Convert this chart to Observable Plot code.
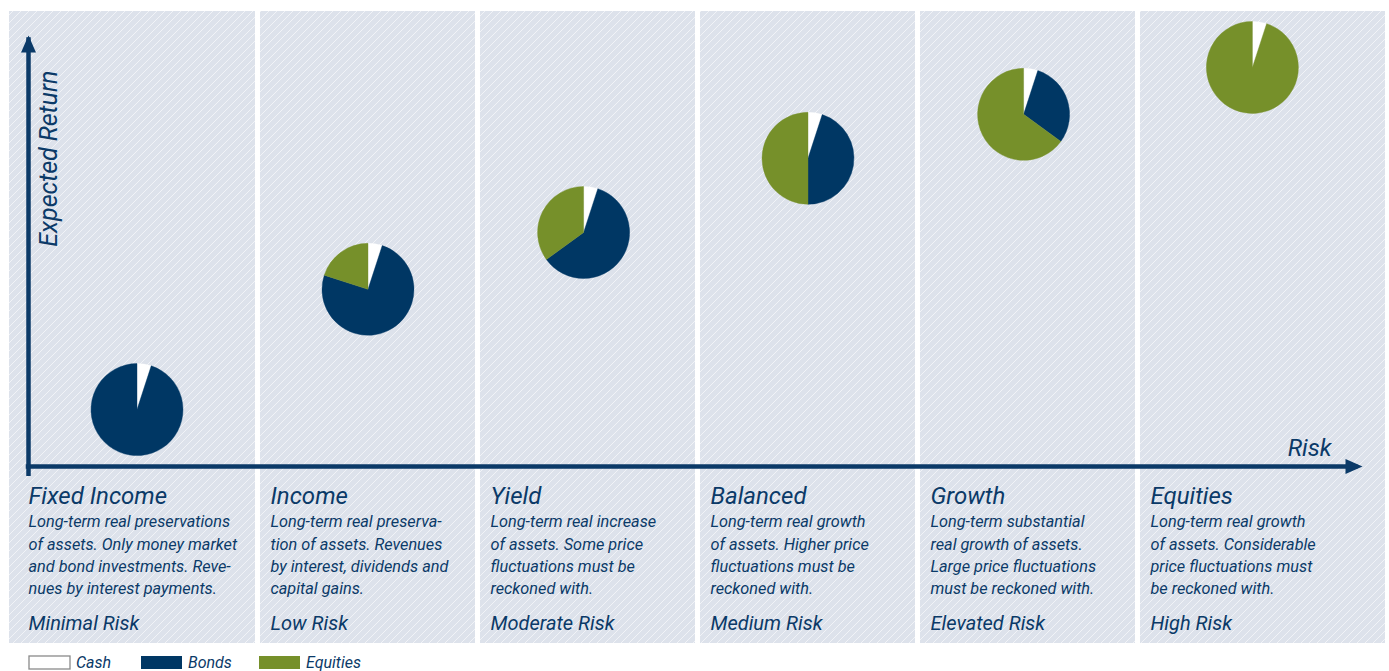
<!DOCTYPE html>
<html>
<head>
<meta charset="utf-8">
<script src="https://cdn.jsdelivr.net/npm/d3@7"></script>
<script src="https://cdn.jsdelivr.net/npm/@observablehq/plot@0.6"></script>
<style>
html, body { margin: 0; padding: 0; background: #fff; overflow: hidden; }
#chart svg { display: block; }
.lg-swatches { font-family: Roboto, sans-serif !important; font-size: 16px !important; font-style: italic; color: #0b3a68; margin: 0 !important; }
.lg-swatches-wrap { min-height: 0 !important; padding: 5px 0 0 29px; align-items: center !important; }
.lg-swatch { margin-right: 0 !important; }
.lg-swatch:nth-of-type(1) { width: 112px; }
.lg-swatch:nth-of-type(2) { width: 118px; }
.lg-swatch > svg { margin-right: 6px !important; }
.lg-swatch:nth-of-type(1) rect { stroke: #8a8a8a; stroke-width: 1.3px; }
</style>
</head>
<body>
<div id="chart"></div>
<script>
// ---------- data ----------
const categories = ["Fixed Income", "Income", "Yield", "Balanced", "Growth", "Equities"];
const riskLevels = ["Minimal Risk", "Low Risk", "Moderate Risk", "Medium Risk", "Elevated Risk", "High Risk"];
const descriptions = [
  "Long-term real preservations\nof assets. Only money market\nand bond investments. Reve-\nnues by interest payments.",
  "Long-term real preserva-\ntion of assets. Revenues\nby interest, dividends and\ncapital gains.",
  "Long-term real increase\nof assets. Some price\nfluctuations must be\nreckoned with.",
  "Long-term real growth\nof assets. Higher price\nfluctuations must be\nreckoned with.",
  "Long-term substantial\nreal growth of assets.\nLarge price fluctuations\nmust be reckoned with.",
  "Long-term real growth\nof assets. Considerable\nprice fluctuations must\nbe reckoned with."
];
// risk (x, 0–6 panel units) and expected return (y, 0–100) of each portfolio
const riskScore = [0.45, 1.5, 2.48, 3.5, 4.48, 5.52];
const expectedReturn = [13.2, 41.1, 54.3, 71.5, 81.7, 92.6];
// allocation (%)
const series = ["Cash", "Bonds", "Equities"];
const cash = [5, 5, 5, 5, 5, 5];
const bonds = [95, 75, 60, 45, 30, 0];
const equities = [0, 20, 35, 50, 65, 95];
const seriesColors = ["#ffffff", "#003764", "#76902a"];

// ---------- derived ----------
const navy = "#0b3a68";
const allocation = [cash, bonds, equities];
const pie = d3.pie().sort(null).value(d => d.value);
const wedges = categories.flatMap((c, i) =>
  pie(series.map((s, k) => ({portfolio: c, series: s, value: allocation[k][i], risk: riskScore[i], ret: expectedReturn[i]})))
    .filter(a => a.value > 0)
    .map(a => ({...a.data, a0: a.startAngle, a1: a.endAngle}))
);
const wedgeSymbol = (a0, a1) => ({
  draw(ctx, size) {
    const r = Math.sqrt(size / Math.PI);
    ctx.moveTo(0, 0);
    ctx.arc(0, 0, r, a0 - Math.PI / 2, a1 - Math.PI / 2);
    ctx.closePath();
  }
});
const arrowHead = {
  draw(ctx) { ctx.moveTo(0, 0); ctx.lineTo(7.5, 17); ctx.lineTo(-7.5, 17); ctx.closePath(); }
};
const idx = d3.range(categories.length);
const first = idx.filter(i => i === 0);
const rest = idx.filter(i => i > 0);
const middle = idx.filter(i => i > 0 && i < categories.length - 1);
const last = idx.filter(i => i === categories.length - 1);

const hatchDefs = () => {
  const g = d3.create("svg:g");
  const p = g.append("defs").append("pattern")
    .attr("id", "hatch").attr("patternUnits", "userSpaceOnUse")
    .attr("width", 8).attr("height", 8);
  p.append("rect").attr("width", 8).attr("height", 8).attr("fill", "#dde2eb");
  p.append("path").attr("d", "M-2,2 l4,-4 M0,8 l8,-8 M6,10 l4,-4")
    .attr("stroke", "#fff").attr("stroke-width", 0.8).attr("stroke-opacity", 0.75);
  return g.node();
};

const txt = {fill: navy, fontFamily: "Roboto", fontStyle: "italic", textAnchor: "start"};
function panelText(textFn, opts) {
  return [
    Plot.text(first, {x: d => d, y: 0, text: textFn, dx: -9.5, ...txt, ...opts}),
    Plot.text(rest, {x: d => d, y: 0, text: textFn, dx: 12.5, ...txt, ...opts})
  ];
}
const panelInsets = {insetTop: -24, insetBottom: -177};

const plot = Plot.plot({
  width: 1389,
  height: 648,
  marginLeft: 37.5,
  marginRight: 31.5,
  marginTop: 35,
  marginBottom: 182,
  x: {domain: [0, 6], axis: null},
  y: {domain: [0, 100], axis: null},
  color: {domain: series, range: seriesColors},
  style: {background: "transparent", fontFamily: "Roboto", overflow: "visible"},
  marks: [
    hatchDefs,
    // panels
    Plot.rect(first, {x1: d => d, x2: d => d + 1, fill: "url(#hatch)", insetLeft: -28.5, insetRight: 2.5, ...panelInsets}),
    Plot.rect(middle, {x1: d => d, x2: d => d + 1, fill: "url(#hatch)", insetLeft: 2.5, insetRight: 2.5, ...panelInsets}),
    Plot.rect(last, {x1: d => d, x2: d => d + 1, fill: "url(#hatch)", insetLeft: 2.5, insetRight: -27.5, ...panelInsets}),
    // axes
    Plot.ruleY([0], {x1: 0, x2: 6, stroke: navy, strokeWidth: 4.5, insetLeft: -11.75}),
    Plot.ruleX([0], {y1: 0, y2: 100, dx: -9.5, stroke: navy, strokeWidth: 4.5, insetTop: 10, insetBottom: -2.25}),
    Plot.dot([0], {x: 0, y: 100, dx: -9.5, symbol: arrowHead, fill: navy, stroke: "none"}),
    Plot.dot([0], {x: 6, y: 0, dx: 4.5, symbol: arrowHead, rotate: 90, fill: navy, stroke: "none"}),
    Plot.text(["Expected Return"], {frameAnchor: "top-left", text: d => d, rotate: -90, textAnchor: "end", lineAnchor: "bottom", dx: 19, dy: 35, fontSize: 25, fill: navy, fontFamily: "Roboto", fontStyle: "italic"}),
    Plot.text(["Risk"], {frameAnchor: "bottom-right", text: d => d, textAnchor: "end", lineAnchor: "bottom", dx: -26.5, dy: -11, fontSize: 24, fill: navy, fontFamily: "Roboto", fontStyle: "italic"}),
    // pies
    ...wedges.map(w => Plot.dot([w], {x: "risk", y: "ret", r: 46, fill: "series", stroke: "series", strokeWidth: 0.4, symbol: wedgeSymbol(w.a0, w.a1)})),
    // panel texts
    ...panelText(i => categories[i], {fontSize: 24, lineAnchor: "bottom", dy: 37}),
    ...panelText(i => descriptions[i], {fontSize: 16.3, lineAnchor: "top", lineHeight: 1.362, dy: 45.2}),
    ...panelText(i => riskLevels[i], {fontSize: 20, lineAnchor: "bottom", dy: 163})
  ]
});

const chart = document.getElementById("chart");
chart.append(plot);
chart.append(plot.legend("color", {legend: "swatches", swatchWidth: 41, swatchHeight: 13, className: "lg"}));
</script>
</body>
</html>
